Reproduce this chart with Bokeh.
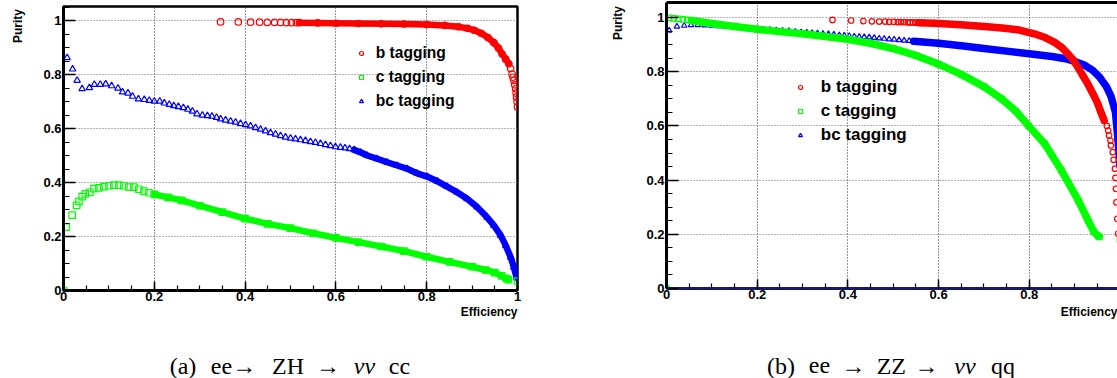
import math
from bokeh.plotting import figure
from bokeh.models import FixedTicker, Label, Legend, LegendItem, LinearAxis, Range1d
from bokeh.layouts import row, column
from bokeh.embed import file_html
from bokeh.resources import INLINE

# ---------------- data ----------------
major_ticks = [0, 0.2, 0.4, 0.6, 0.8, 1]
major_labels = ["0", "0.2", "0.4", "0.6", "0.8", "1"]
minor_ticks = [0.05 * i for i in range(22)]
series_names = ["b tagging", "c tagging", "bc tagging"]
x_title = "Efficiency"
y_title = "Purity"

# ---- panel (a): ee -> ZH -> nu nu cc ----
# b tagging
b_a_head_x = [0.346, 0.385, 0.412, 0.432, 0.449, 0.465, 0.478, 0.491, 0.502, 0.513]
b_a_head_y = [0.995, 0.995, 0.994, 0.994, 0.993, 0.993, 0.993, 0.992, 0.992, 0.992]
b_a_band_x = [0.52, 0.56, 0.60, 0.65, 0.70, 0.75, 0.80, 0.84, 0.87, 0.89, 0.905, 0.92, 0.935, 0.948, 0.958, 0.966, 0.974, 0.981]
b_a_band_y = [0.992, 0.991, 0.990, 0.989, 0.988, 0.987, 0.985, 0.982, 0.977, 0.971, 0.964, 0.953, 0.937, 0.918, 0.898, 0.877, 0.857, 0.840]
b_a_tail_x = [0.985, 0.988, 0.990, 0.992, 0.994, 0.996, 0.997, 0.998, 0.999, 1.0]
b_a_tail_y = [0.822, 0.802, 0.790, 0.778, 0.762, 0.747, 0.731, 0.716, 0.700, 0.680]
# c tagging
c_a_head_x = [0.0, 0.006, 0.019, 0.029, 0.034, 0.041, 0.048, 0.058, 0.067, 0.078, 0.089, 0.100, 0.111, 0.122, 0.133, 0.144, 0.155, 0.166, 0.177, 0.188]
c_a_head_y = [0.0, 0.235, 0.279, 0.315, 0.330, 0.348, 0.358, 0.364, 0.377, 0.380, 0.385, 0.388, 0.390, 0.390, 0.388, 0.383, 0.383, 0.375, 0.368, 0.362]
c_a_band_x = [0.20, 0.23, 0.26, 0.30, 0.35, 0.40, 0.45, 0.50, 0.55, 0.60, 0.65, 0.70, 0.75, 0.80, 0.85, 0.90, 0.93, 0.95, 0.965, 0.975, 0.98]
c_a_band_y = [0.356, 0.345, 0.334, 0.314, 0.290, 0.266, 0.247, 0.231, 0.212, 0.195, 0.179, 0.163, 0.146, 0.125, 0.106, 0.088, 0.076, 0.066, 0.054, 0.045, 0.040]
c_a_tail_x = [1.0]
c_a_tail_y = [0.035]
# bc tagging
bc_a_head_x = [0.0, 0.008, 0.020, 0.030, 0.041, 0.057, 0.068, 0.081, 0.093, 0.106, 0.120, 0.130, 0.142, 0.152, 0.165,
               0.178, 0.189, 0.200, 0.212, 0.222, 0.233, 0.243, 0.253, 0.264, 0.274, 0.284, 0.294, 0.306, 0.317, 0.327,
               0.337, 0.346, 0.357, 0.368, 0.379, 0.390, 0.401, 0.412, 0.423, 0.434, 0.445, 0.456, 0.467, 0.478, 0.489,
               0.500, 0.511, 0.522, 0.533, 0.544, 0.555, 0.566, 0.577, 0.588, 0.599, 0.610, 0.620, 0.630]
bc_a_head_y = [0.0, 0.862, 0.820, 0.778, 0.747, 0.751, 0.763, 0.763, 0.765, 0.758, 0.749, 0.735, 0.731, 0.719, 0.709,
               0.707, 0.704, 0.701, 0.701, 0.694, 0.689, 0.684, 0.681, 0.677, 0.671, 0.664, 0.654, 0.649, 0.647, 0.645,
               0.641, 0.635, 0.631, 0.627, 0.623, 0.618, 0.614, 0.609, 0.603, 0.597, 0.591, 0.584, 0.579, 0.573, 0.568,
               0.564, 0.561, 0.558, 0.555, 0.551, 0.548, 0.544, 0.540, 0.536, 0.532, 0.530, 0.528, 0.525]
bc_a_band_x = [0.64, 0.654, 0.669, 0.691, 0.713, 0.735, 0.757, 0.779, 0.801, 0.823, 0.845, 0.867, 0.889, 0.911, 0.933, 0.948, 0.963, 0.974, 0.985, 0.992, 0.998]
bc_a_band_y = [0.521, 0.512, 0.500, 0.488, 0.475, 0.463, 0.451, 0.434, 0.422, 0.405, 0.385, 0.364, 0.340, 0.309, 0.271, 0.241, 0.204, 0.167, 0.123, 0.086, 0.049]
bc_a_tail_x = [1.0]
bc_a_tail_y = [0.045]

# ---- panel (b): ee -> ZZ -> nu nu qq ----
b_b_head_x = [0.366, 0.407, 0.434, 0.453, 0.469, 0.482, 0.491, 0.501, 0.510, 0.517, 0.524, 0.532, 0.537, 0.543, 0.549]
b_b_head_y = [0.991, 0.989, 0.987, 0.986, 0.985, 0.985, 0.984, 0.984, 0.983, 0.983, 0.983, 0.982, 0.982, 0.982, 0.981]
b_b_band_x = [0.555, 0.591, 0.65, 0.701, 0.74, 0.774, 0.811, 0.835, 0.855, 0.872, 0.885, 0.897, 0.907, 0.918, 0.929, 0.940, 0.951, 0.958, 0.965]
b_b_band_y = [0.981, 0.979, 0.973, 0.967, 0.961, 0.955, 0.940, 0.926, 0.909, 0.889, 0.866, 0.843, 0.817, 0.786, 0.755, 0.720, 0.682, 0.650, 0.620]
b_b_tail_x = [0.971, 0.974, 0.976, 0.979, 0.980, 0.984, 0.986, 0.989, 0.990, 0.991, 0.992, 0.994, 0.996]
b_b_tail_y = [0.600, 0.583, 0.565, 0.546, 0.528, 0.503, 0.475, 0.442, 0.408, 0.368, 0.318, 0.257, 0.202]

c_b_head_x = [0.0, 0.006, 0.016, 0.026, 0.036, 0.046]
c_b_head_y = [0.0, 0.999, 0.997, 0.995, 0.993, 0.991]
c_b_band_x = [0.055, 0.10, 0.15, 0.20, 0.25, 0.30, 0.35, 0.40, 0.45, 0.50, 0.55, 0.60, 0.65, 0.70, 0.739, 0.77, 0.798, 0.834, 0.871, 0.908, 0.93, 0.942, 0.952]
c_b_band_y = [0.989, 0.978, 0.967, 0.957, 0.948, 0.940, 0.930, 0.920, 0.905, 0.885, 0.860, 0.828, 0.790, 0.745, 0.700, 0.655, 0.601, 0.534, 0.435, 0.325, 0.250, 0.210, 0.193]
c_b_tail_x = [0.955, 1.0]
c_b_tail_y = [0.190, 0.180]

bc_b_head_x = [0.0, 0.006, 0.023, 0.039, 0.054, 0.069, 0.084, 0.099, 0.114, 0.129, 0.144, 0.158, 0.172, 0.186, 0.200,
               0.214, 0.228, 0.242, 0.256, 0.270, 0.284, 0.297, 0.309, 0.321, 0.333, 0.345, 0.357, 0.369, 0.381, 0.392,
               0.403, 0.414, 0.425, 0.436, 0.447, 0.458, 0.469, 0.480, 0.491, 0.502, 0.513, 0.524, 0.535]
bc_b_head_y = [0.0, 0.952, 0.967, 0.970, 0.972, 0.972, 0.971, 0.970, 0.968, 0.967, 0.965, 0.963, 0.961, 0.960, 0.958,
               0.956, 0.955, 0.953, 0.951, 0.950, 0.948, 0.946, 0.945, 0.943, 0.942, 0.940, 0.939, 0.937, 0.935, 0.934,
               0.932, 0.930, 0.929, 0.928, 0.927, 0.925, 0.923, 0.922, 0.920, 0.919, 0.917, 0.915, 0.914]
bc_b_band_x = [0.545, 0.60, 0.65, 0.70, 0.75, 0.80, 0.85, 0.88, 0.90, 0.92, 0.94, 0.955, 0.97, 0.98, 0.99, 0.995, 1.0]
bc_b_band_y = [0.912, 0.905, 0.896, 0.886, 0.876, 0.866, 0.856, 0.848, 0.838, 0.826, 0.805, 0.780, 0.745, 0.710, 0.650, 0.560, 0.450]
bc_b_tail_x = []
bc_b_tail_y = []

caption_a = [("(a)", False), ("ee\u2192", False), ("ZH", False), ("\u2192", False), ("\u03bd\u03bd", True), ("cc", False)]
caption_b = [("(b)", False), ("ee", False), ("\u2192", False), ("ZZ", False), ("\u2192", False), ("\u03bd\u03bd", True), ("qq", False)]

# ---------------- style / layout ----------------
SANS = "Liberation Sans"
SERIF = "Liberation Serif"
COLORS = {"b tagging": "#ff0000", "c tagging": "#00ff00", "bc tagging": "#0000ff"}
MARKERS = {"b tagging": "circle", "c tagging": "square", "bc tagging": "triangle"}
TOP_H = 306            # height of the row holding the plot frames
BOT_H = 378 - TOP_H    # strip below holding axis title + caption


def style_axis(ax, tick_in, minor_in, standoff, line_color="black"):
    ax.ticker = FixedTicker(ticks=major_ticks, minor_ticks=minor_ticks)
    ax.major_label_overrides = dict(zip(major_ticks, major_labels))
    ax.major_label_text_font = SANS
    ax.major_label_text_font_style = "bold"
    ax.major_label_text_font_size = "13px"
    ax.major_label_text_color = "black"
    ax.axis_line_width = 3
    ax.axis_line_color = line_color
    ax.major_tick_in = tick_in
    ax.major_tick_out = 0
    ax.minor_tick_in = minor_in
    ax.minor_tick_out = 0
    ax.major_tick_line_width = 1.5
    ax.minor_tick_line_width = 1.2
    ax.major_tick_line_color = "black"
    ax.minor_tick_line_color = "black"
    ax.major_label_standoff = standoff


def blank(width, height, **borders):
    f = figure(width=width, height=height, x_range=Range1d(0, 1), y_range=Range1d(0, 1),
               x_axis_type=None, y_axis_type=None, output_backend="svg", toolbar_location=None,
               title=None, frame_align=False, **borders)
    f.outline_line_color = None
    f.grid.visible = False
    f.background_fill_color = "white"
    f.border_fill_color = "white"
    return f


def make_panel(width, borders, x_end, y_end, data, marker_size, band_width, legend_loc,
               legend_font, legend_standoff, xaxis_color, outline):
    left, right, top, bottom = borders
    p = figure(width=width, height=TOP_H, x_range=Range1d(0, x_end), y_range=Range1d(0, y_end),
               output_backend="svg", toolbar_location=None, title=None, frame_align=False,
               min_border_left=left, min_border_right=right, min_border_top=top, min_border_bottom=bottom)
    p.background_fill_color = "white"
    p.border_fill_color = "white"
    style_axis(p.below[0], 9, 5, 1, xaxis_color)
    style_axis(p.left[0], 12, 6, 2)

    if outline:
        p.outline_line_color = "black"
        p.outline_line_width = 2.5
    else:
        p.outline_line_color = None
        top_axis = LinearAxis(ticker=FixedTicker(ticks=[]), major_label_text_font_size="0px",
                              major_tick_in=0, major_tick_out=0, minor_tick_in=0, minor_tick_out=0,
                              axis_line_width=3, major_label_standoff=0)
        p.add_layout(top_axis, "above")

    p.xgrid.grid_line_color = "#333333"
    p.xgrid.grid_line_dash = "1 2"
    p.ygrid.grid_line_color = "#666666"
    p.ygrid.grid_line_dash = "1 2"

    renderers = {}
    for name in ["bc tagging", "c tagging", "b tagging"]:
        hx, hy, bx, by, tx, ty = data[name]
        col = COLORS[name]
        p.line(bx, by, line_color=col, line_width=band_width, line_cap="round", line_join="round")
        r = p.scatter(hx + bx + tx, hy + by + ty, marker=MARKERS[name], size=marker_size,
                      fill_color=None, line_color=col, line_width=1.2)
        renderers[name] = r

    legend = Legend(items=[LegendItem(label=n, renderers=[renderers[n]]) for n in series_names],
                    location=legend_loc, label_text_font=SANS, label_text_font_style="bold",
                    label_text_font_size=legend_font, label_text_color="black",
                    glyph_width=10, glyph_height=24,
                    label_height=24, label_standoff=legend_standoff, spacing=0, padding=0, margin=0,
                    background_fill_alpha=0, border_line_color=None)
    p.add_layout(legend, "center")
    return p


def y_title_strip(width, right_edge, top_y, length=35):
    # the rotated title is the axis label of a tick-less axis; the frame spans the title's extent
    s = blank(width, TOP_H, min_border_left=right_edge, min_border_right=0,
              min_border_top=top_y, min_border_bottom=TOP_H - top_y - length)
    ax = LinearAxis(ticker=FixedTicker(ticks=[]), axis_label=y_title, axis_line_color=None,
                    major_tick_in=0, major_tick_out=0, minor_tick_in=0, minor_tick_out=0,
                    major_label_standoff=0, axis_label_standoff=0,
                    axis_label_text_font=SANS, axis_label_text_font_style="bold",
                    axis_label_text_font_size="12px", axis_label_text_color="black")
    s.add_layout(ax, "left")
    return s


def bottom_strip(width, x_title_right, pieces, centers):
    s = figure(width=width, height=BOT_H, x_range=Range1d(0, width), y_range=Range1d(0, BOT_H),
               x_axis_type=None, y_axis_type=None, output_backend="svg", toolbar_location=None,
               min_border=0, title=None, frame_align=False)
    s.outline_line_color = None
    s.grid.visible = False
    s.background_fill_color = "white"
    s.border_fill_color = "white"
    s.add_layout(Label(x=x_title_right, y=378 - 311.5, x_units="screen", y_units="screen", text=x_title,
                       text_font=SANS, text_font_style="bold", text_font_size="12px",
                       text_align="right", text_baseline="middle", text_color="black"))
    for (txt, italic), cx in zip(pieces, centers):
        s.add_layout(Label(x=cx, y=378 - 365, x_units="screen", y_units="screen", text=txt,
                           text_font=SERIF, text_font_size="24px",
                           text_font_style="italic" if italic else "normal",
                           text_align="center", text_baseline="middle", text_color="black"))
    return s


data_a = {
    "b tagging": (b_a_head_x, b_a_head_y, b_a_band_x, b_a_band_y, b_a_tail_x, b_a_tail_y),
    "c tagging": (c_a_head_x, c_a_head_y, c_a_band_x, c_a_band_y, c_a_tail_x, c_a_tail_y),
    "bc tagging": (bc_a_head_x, bc_a_head_y, bc_a_band_x, bc_a_band_y, bc_a_tail_x, bc_a_tail_y),
}
data_b = {
    "b tagging": (b_b_head_x, b_b_head_y, b_b_band_x, b_b_band_y, b_b_tail_x, b_b_tail_y),
    "c tagging": (c_b_head_x, c_b_head_y, c_b_band_x, c_b_band_y, c_b_tail_x, c_b_tail_y),
    "bc tagging": (bc_b_head_x, bc_b_head_y, bc_b_band_x, bc_b_band_y, bc_b_tail_x, bc_b_tail_y),
}

SA, SB = 36, 70   # widths of the strips holding the "Purity" titles
ya = y_title_strip(SA, 24, 8)
pa = make_panel(560 - SA, (63 - SA, 43, 6, TOP_H - 290), 1.0, 1.052, data_a, 6.5, 6.5, (292.7, 177),
                "15.6px", 10, "black", True)
yb = y_title_strip(SB, 64, 5)
pb = make_panel(557 - SB, (106 - SB, 0, 2, TOP_H - 288), 0.9945, 1.0554, data_b, 5.5, 7.5, (128.8, 141.3),
                "17px", 16, "#1a1a5e", False)

ba = bottom_strip(560, 517, caption_a, [182.5, 233, 287.5, 327.5, 364, 399])
bb = bottom_strip(557, 557, caption_b, [220.5, 259, 293, 330.8, 366, 404.5, 442.5])

layout = column(row(ya, pa, yb, pb), row(ba, bb))
open("out.html", "w").write(file_html(layout, INLINE))
